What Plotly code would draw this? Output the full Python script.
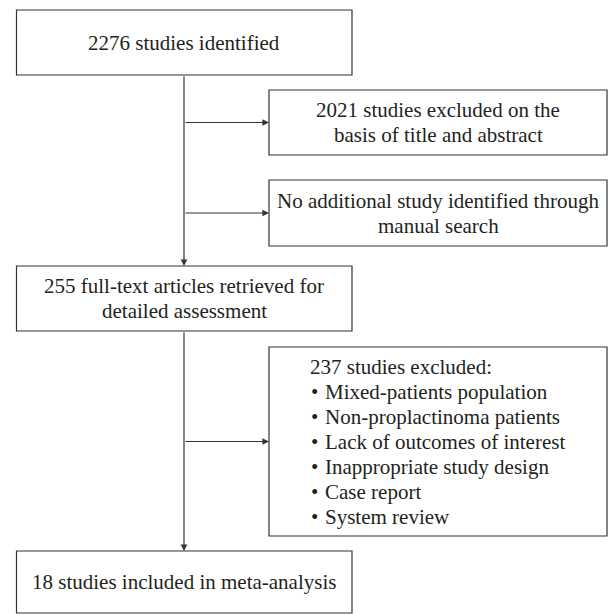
import plotly.graph_objects as go

# ---- content ----
box_lines = [
    ["2276 studies identified"],
    ["2021 studies excluded on the", "basis of title and abstract"],
    ["No additional study identified through", "manual search"],
    ["255 full-text articles retrieved for", "detailed assessment"],
    ["237 studies excluded:"],
    ["18 studies included in meta-analysis"],
]
excluded_reasons = [
    "Mixed-patients population",
    "Non-proplactinoma patients",
    "Lack of outcomes of interest",
    "Inappropriate study design",
    "Case report",
    "System review",
]

# ---- layout geometry (pixels, page coordinates) ----
boxes = [  # x0, y0, x1, y1
    (16.5, 10, 352, 75),
    (269, 90, 607, 155),
    (269, 180, 607, 246),
    (16.5, 266, 352, 331),
    (269, 347, 607, 536),
    (16.5, 551, 352, 613),
]
main_x = 184
line_gap = 25
line_col = "#333333"
text_col = "#231f20"
font_fam = "Liberation Serif"
fs = 21

fig = go.Figure()
fig.add_trace(go.Scatter(x=[0, 608], y=[0, 614], mode="markers",
                         marker=dict(opacity=0), hoverinfo="skip", showlegend=False))

for (x0, y0, x1, y1) in boxes:
    fig.add_shape(type="rect", x0=x0, y0=y0, x1=x1, y1=y1,
                  line=dict(color=line_col, width=1.2), fillcolor="white", layer="below")

def txt(x, y, s, anchor="center"):
    fig.add_annotation(x=x, y=y, text=s, showarrow=False, xanchor=anchor,
                       yanchor="middle", font=dict(family=font_fam, size=fs, color=text_col))

for i in [0, 1, 2, 3, 5]:
    x0, y0, x1, y1 = boxes[i]
    n = len(box_lines[i])
    cy = (y0 + y1) / 2
    for k, s in enumerate(box_lines[i]):
        txt((x0 + x1) / 2, cy + (k - (n - 1) / 2) * line_gap, s)

ex0, ey0, ex1, ey1 = boxes[4]
cy = (ey0 + ey1) / 2
n = 1 + len(excluded_reasons)
y_first = cy - (n - 1) / 2 * line_gap
txt(308, y_first, box_lines[4][0], "left")
for k, r in enumerate(excluded_reasons):
    yy = y_first + (k + 1) * line_gap
    txt(309, yy, "•", "left")
    txt(323, yy, r, "left")

def arrow(x, y, ax, ay):
    fig.add_annotation(x=x, y=y, ax=ax, ay=ay, xref="x", yref="y", axref="x", ayref="y",
                       text="", showarrow=True, arrowhead=2, arrowsize=1.1,
                       arrowwidth=1.2, arrowcolor=line_col, standoff=0)

arrow(main_x, boxes[3][1], main_x, boxes[0][3])
arrow(main_x, boxes[5][1], main_x, boxes[3][3])
for bi in [1, 2, 4]:
    x0, y0, x1, y1 = boxes[bi]
    arrow(x0, (y0 + y1) / 2, main_x, (y0 + y1) / 2)

fig.update_layout(
    width=608, height=614, margin=dict(l=0, r=0, t=0, b=0),
    plot_bgcolor="white", paper_bgcolor="white", showlegend=False,
    xaxis=dict(range=[0, 608], visible=False, fixedrange=True),
    yaxis=dict(range=[614, 0], visible=False, fixedrange=True),
)
fig.write_html("out.html", config={"displayModeBar": False},
               post_script="document.body.style.margin='0';document.body.style.overflow='hidden';")
